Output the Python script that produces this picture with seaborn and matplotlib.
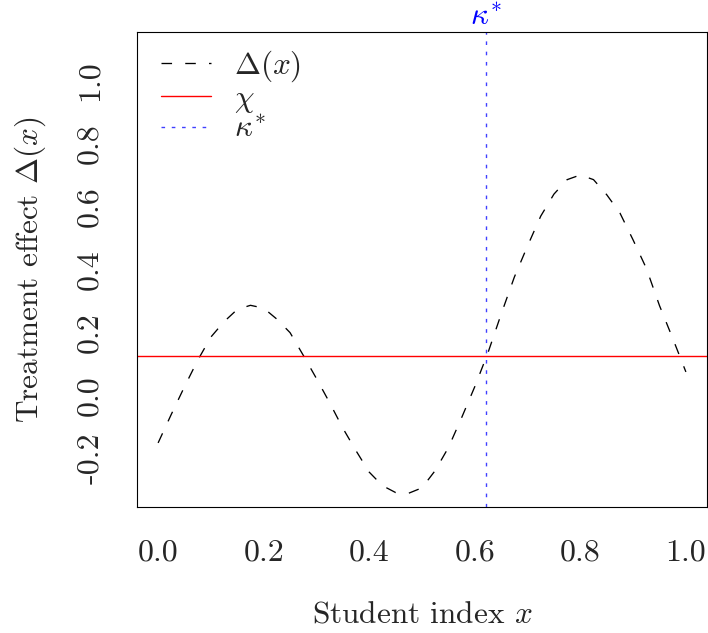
import matplotlib
matplotlib.use("Agg")
import matplotlib.pyplot as plt
import matplotlib.transforms as mtransforms
import seaborn as sns
import pandas as pd

# values
student_index = [0.0, 0.025, 0.05, 0.075, 0.1, 0.125, 0.15, 0.175, 0.2, 0.225,
                 0.25, 0.275, 0.3, 0.325, 0.35, 0.375, 0.4, 0.425, 0.45, 0.475,
                 0.5, 0.525, 0.55, 0.575, 0.6, 0.625, 0.65, 0.675, 0.7, 0.725,
                 0.75, 0.775, 0.8, 0.825, 0.85, 0.875, 0.9, 0.925, 0.95, 0.975, 1.0]
treatment_effect = [-0.152, -0.061, 0.027, 0.111, 0.185, 0.234, 0.273, 0.286, 0.277, 0.242,
                    0.199, 0.127, 0.053, -0.024, -0.105, -0.177, -0.245, -0.288, -0.310, -0.312,
                    -0.295, -0.240, -0.167, -0.072, 0.027, 0.135, 0.258, 0.376, 0.475, 0.570,
                    0.640, 0.686, 0.701, 0.686, 0.638, 0.580, 0.494, 0.404, 0.285, 0.181, 0.074]
chi = 0.124
kappa_star = 0.621

x_ticks = [0.0, 0.2, 0.4, 0.6, 0.8, 1.0]
y_ticks = [-0.2, 0.0, 0.2, 0.4, 0.6, 0.8, 1.0]

sns.set_style("white")
plt.rcParams["font.family"] = "serif"
plt.rcParams["font.serif"] = ["cmr10"]
plt.rcParams["mathtext.fontset"] = "cm"
plt.rcParams["axes.formatter.use_mathtext"] = True
fs = 22.5
fs_tick = 23

fig = plt.figure(figsize=(7.08, 6.33), dpi=100)
ax = fig.add_axes([137 / 708, 1 - 507 / 633, 570 / 708, 475 / 633])

df = pd.DataFrame({"x": student_index, "delta": treatment_effect})
sns.lineplot(data=df, x="x", y="delta", ax=ax, color="black", lw=0.95,
             linestyle=(0, (8, 10)), label=r"$\Delta(x)$")
ax.axhline(chi, color="red", lw=1.0, label=r"$\chi$")
ax.axvline(kappa_star, color="blue", lw=1.0, alpha=0.75,
           linestyle=(0, (2.6, 4.8)), label=r"$\kappa^{\!*}$")

ax.set_xlim(-0.04, 1.04)
ax.set_ylim(-0.356, 1.156)
ax.set_xticks(x_ticks)
ax.set_xticklabels([f"{v:.1f}" for v in x_ticks], fontsize=fs_tick)
ax.set_yticks(y_ticks)
ax.set_yticklabels([f"{v:.1f}" for v in y_ticks], fontsize=fs_tick, rotation=90, va="center")
ax.tick_params(axis="both", direction="out", length=12, width=0.8, color="black")
ax.tick_params(axis="x", pad=11)
ax.tick_params(axis="y", pad=12)
for s in ax.spines.values():
    s.set_color("black")
    s.set_linewidth(0.8)

ax.set_xlabel(r"Student index $x$", fontsize=fs)
ax.set_ylabel(r"Treatment effect $\Delta(x)$", fontsize=fs)
ax.xaxis.set_label_coords(0.5, -0.196)
ax.yaxis.set_label_coords(-0.157, 0.5)

trans = mtransforms.blended_transform_factory(ax.transData, ax.transAxes)
ax.text(kappa_star, 1.003, r"$\kappa^{\!*}$", color="blue", ha="center", va="bottom",
        fontsize=fs, transform=trans)

ax.legend(loc="upper left", bbox_to_anchor=(0.009, 1.004), frameon=False, fontsize=fs,
          handlelength=1.6, handletextpad=0.75, labelspacing=0.02,
          borderaxespad=0.3, borderpad=0.3)

fig.savefig("out.png", dpi=100)
